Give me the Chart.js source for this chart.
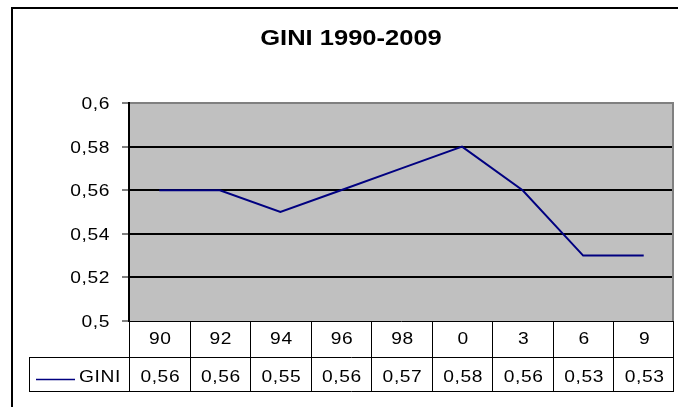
<!DOCTYPE html>
<html>
<head>
<meta charset="utf-8">
<script src="https://cdn.jsdelivr.net/npm/chart.js@4/dist/chart.umd.min.js"></script>
<style>
  html, body { margin: 0; padding: 0; background: #ffffff; }
  #wrap { width: 678px; height: 407px; }
</style>
</head>
<body>
<div id="wrap"><canvas id="c" width="678" height="407"></canvas></div>
<script>
const chartTitle = 'GINI 1990-2009';
const categories = ['90', '92', '94', '96', '98', '0', '3', '6', '9'];
const seriesName = 'GINI';
const giniValues = [0.56, 0.56, 0.55, 0.56, 0.57, 0.58, 0.56, 0.53, 0.53];
const yMin = 0.5;
const yMax = 0.6;
const yStep = 0.02;

const FONT = '"Liberation Sans", Arial, sans-serif';
const LINE_COLOR = '#000080';
const H_SCALE = 1.2;

function fmt(v) {
  return String(Number(v.toFixed(2))).replace('.', ',');
}

// draws text with the horizontally-widened look of the original
function wideText(ctx, text, x, y, align, size, bold, hScale, spacing) {
  ctx.save();
  ctx.translate(x, y);
  ctx.scale(hScale, 1);
  ctx.font = (bold ? 'bold ' : '') + size + 'px ' + FONT;
  ctx.letterSpacing = spacing + 'px';
  ctx.fillStyle = '#000000';
  ctx.textAlign = align;
  ctx.textBaseline = 'alphabetic';
  ctx.fillText(text, 0, 0);
  ctx.restore();
}

const excelPlugin = {
  id: 'excelLook',
  beforeDraw(chart) {
    const ctx = chart.ctx;
    const a = chart.chartArea;
    ctx.save();
    ctx.fillStyle = '#ffffff';
    ctx.fillRect(0, 0, chart.width, chart.height);
    // outer chart border
    ctx.strokeStyle = '#000000';
    ctx.lineWidth = 2;
    ctx.strokeRect(12, 8, 800, 600);
    // plot area fill
    ctx.fillStyle = '#c0c0c0';
    ctx.fillRect(a.left, a.top, a.right - a.left, a.bottom - a.top);
    ctx.restore();
    // title
    wideText(ctx, chartTitle, 351, 45, 'center', 22, true, 1.16, 0);
  },
  afterDraw(chart) {
    const ctx = chart.ctx;
    const a = chart.chartArea;
    const xs = chart.scales.x;
    const ys = chart.scales.y;
    const n = categories.length;
    ctx.save();
    // plot area right border (gray)
    ctx.strokeStyle = '#808080';
    ctx.lineWidth = 2;
    ctx.beginPath();
    ctx.moveTo(a.right - 1, a.top);
    ctx.lineTo(a.right - 1, a.bottom);
    ctx.stroke();

    // y tick labels
    ys.ticks.forEach(t => {
      const y = ys.getPixelForValue(t.value);
      wideText(ctx, fmt(t.value), 110, Math.round(y) + 6, 'right', 16, false, H_SCALE, 0.5);
    });

    const rowTop = a.bottom;
    const rowMid = 357;
    const rowBot = 391;
    const legendLeft = 29;

    const bounds = [a.left];
    for (let i = 0; i < n - 1; i++) {
      bounds.push(Math.round((xs.getPixelForValue(i) + xs.getPixelForValue(i + 1)) / 2));
    }
    bounds.push(a.right);

    ctx.strokeStyle = '#000000';
    ctx.lineWidth = 1;
    ctx.beginPath();
    ctx.moveTo(a.left, rowTop + 0.5); ctx.lineTo(a.right, rowTop + 0.5);
    ctx.moveTo(legendLeft, rowMid + 0.5); ctx.lineTo(a.right, rowMid + 0.5);
    ctx.moveTo(legendLeft, rowBot + 0.5); ctx.lineTo(a.right, rowBot + 0.5);
    bounds.forEach((b, i) => {
      const x = (i === bounds.length - 1 ? b - 0.5 : b + 0.5);
      ctx.moveTo(x, rowTop); ctx.lineTo(x, rowBot + 1);
    });
    ctx.moveTo(legendLeft + 0.5, rowMid); ctx.lineTo(legendLeft + 0.5, rowBot + 1);
    ctx.stroke();

    // table text
    for (let i = 0; i < n; i++) {
      const cx = xs.getPixelForValue(i) + 1;
      wideText(ctx, categories[i], cx, 344, 'center', 16, false, H_SCALE, 0.5);
      wideText(ctx, fmt(giniValues[i]), cx, 382, 'center', 16, false, H_SCALE, 0.5);
    }
    // legend key
    ctx.strokeStyle = LINE_COLOR;
    ctx.lineWidth = 1.5;
    ctx.beginPath();
    ctx.moveTo(36, 379.5); ctx.lineTo(75, 379.5);
    ctx.stroke();
    ctx.restore();
    wideText(ctx, seriesName, 79, 382, 'left', 16, false, H_SCALE, 0.5);
  }
};

new Chart(document.getElementById('c'), {
  type: 'line',
  data: {
    labels: categories,
    datasets: [{
      label: seriesName,
      data: giniValues,
      borderColor: LINE_COLOR,
      backgroundColor: LINE_COLOR,
      borderWidth: 2,
      pointRadius: 0,
      pointHoverRadius: 0,
      tension: 0,
      fill: false
    }]
  },
  options: {
    responsive: false,
    animation: false,
    devicePixelRatio: 1,
    layout: { padding: { top: 103, right: 4, bottom: 86, left: 0 } },
    plugins: {
      legend: { display: false },
      title: { display: false },
      tooltip: { enabled: false }
    },
    scales: {
      x: {
        type: 'category',
        display: false,
        offset: true
      },
      y: {
        min: yMin,
        max: yMax,
        afterFit(scale) { scale.width = 129; },
        border: { display: true, color: '#000000', width: 2 },
        grid: {
          color(c) {
            const v = c.tick ? Math.round(c.tick.value * 100) / 100 : 0;
            if (v === yMax) return '#808080';
            if (v === yMin) return 'rgba(0,0,0,0)';
            return '#000000';
          },
          lineWidth: 2,
          tickColor: '#000000',
          tickWidth: 1,
          tickLength: 7,
          drawTicks: true
        },
        ticks: {
          display: false,
          stepSize: yStep
        }
      }
    }
  },
  plugins: [excelPlugin]
});
</script>
</body>
</html>
